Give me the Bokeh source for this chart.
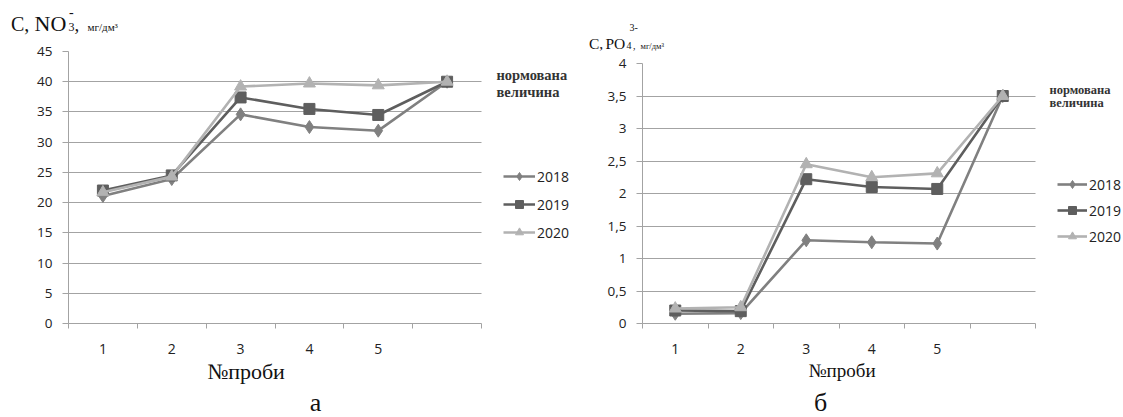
from bokeh.plotting import figure
from bokeh.layouts import row, column
from bokeh.models import Range1d, FixedTicker, Label, Legend, LegendItem
from bokeh.embed import file_html
from bokeh.resources import INLINE

# ---------------- data ----------------
x_labels = ["1", "2", "3", "4", "5", ""]
years = ["2018", "2019", "2020"]

no3_2018 = [21.1, 23.9, 34.6, 32.5, 31.9, 40.0]
no3_2019 = [22.0, 24.5, 37.4, 35.5, 34.5, 40.0]
no3_2020 = [21.7, 24.3, 39.2, 39.7, 39.4, 40.0]

po4_2018 = [0.15, 0.16, 1.28, 1.25, 1.23, 3.5]
po4_2019 = [0.20, 0.19, 2.22, 2.10, 2.07, 3.5]
po4_2020 = [0.23, 0.25, 2.45, 2.25, 2.31, 3.5]

no3_ticks = [0, 5, 10, 15, 20, 25, 30, 35, 40, 45]
no3_tick_labels = ["0", "5", "10", "15", "20", "25", "30", "35", "40", "45"]
po4_ticks = [0, 0.5, 1, 1.5, 2, 2.5, 3, 3.5, 4]
po4_tick_labels = ["0", "0,5", "1", "1,5", "2", "2,5", "3", "3,5", "4"]

norm_label = ["нормована", "величина"]
x_title = "№проби"

# ---------------- style ----------------
COLORS = ["#808080", "#5e5e5e", "#b2b2b2"]
MARKERS = ["diamond", "square", "triangle"]
MSIZES = [13, 11, 12]
GRID = "#a3a3a3"
SERIF = "Liberation Serif"
SANS = "Open Sans"
MID = 0.34   # distance from em-box middle to baseline, in em (serif)


def text_panel(width, height):
    p = figure(width=width, height=height, output_backend="svg", toolbar_location=None,
               title=None, x_axis_type=None, y_axis_type=None,
               x_range=Range1d(0, width), y_range=Range1d(height, 0),
               min_border=0, min_border_left=0, min_border_right=0,
               min_border_top=0, min_border_bottom=0, frame_align=False)
    p.outline_line_color = None
    p.grid.visible = False
    return p


def put(p, x, base, text, size, style="normal", align="left", color="#111111", screen=False):
    # base = wanted baseline; text is anchored by its middle
    if screen:
        y = base + MID * size     # screen y grows upward
        units = "screen"
    else:
        y = base - MID * size     # data y of text panels grows downward
        units = "data"
    p.add_layout(Label(x=x, y=y, x_units=units, y_units=units, text=text, text_font=SERIF,
                       text_font_size=f"{size}px", text_font_style=style, text_align=align,
                       text_baseline="middle", text_color=color))


def chart(width, height, fl, ft, fb, cat_px, ymax, yticks, ylabels, series):
    n = len(x_labels)
    frame_w = width - fl
    x_end = 0.5 + frame_w / cat_px
    p = figure(width=width, height=height, output_backend="svg", toolbar_location=None, title=None,
               x_range=Range1d(0.5, x_end), y_range=Range1d(0, ymax), frame_align=False,
               min_border_left=fl, min_border_right=0, min_border_top=ft, min_border_bottom=fb)
    p.outline_line_color = None
    xs = list(range(1, n + 1))
    xa = p.xaxis[0]
    xa.bounds = (0.5, n + 0.5)
    xa.ticker = FixedTicker(ticks=xs, minor_ticks=[x - 0.5 for x in xs] + [n + 0.5])
    xa.major_label_overrides = {x: lab for x, lab in zip(xs, x_labels)}
    xa.major_tick_out = 0
    xa.major_tick_in = 0
    xa.minor_tick_out = 5
    xa.minor_tick_in = 0
    xa.minor_tick_line_color = GRID
    xa.axis_line_color = GRID
    xa.major_label_standoff = 15
    xa.major_label_text_font = SANS
    xa.major_label_text_font_size = "14px"
    xa.major_label_text_color = "#222222"
    ya = p.yaxis[0]
    ya.ticker = FixedTicker(ticks=yticks, minor_ticks=[])
    ya.major_label_overrides = {t: l for t, l in zip(yticks, ylabels)}
    ya.major_tick_out = 6
    ya.major_tick_in = 0
    ya.major_tick_line_color = GRID
    ya.axis_line_color = GRID
    ya.major_label_standoff = 10
    ya.major_label_text_font = SANS
    ya.major_label_text_font_size = "13.5px"
    ya.major_label_text_color = "#222222"
    p.xgrid.grid_line_color = None
    p.ygrid.grid_line_color = GRID
    p.ygrid.cross_bounds = (0.5, n + 0.5)
    items = []
    for name, ys, c, m, s in zip(years, series, COLORS, MARKERS, MSIZES):
        ln = p.line(xs, ys, line_color=c, line_width=2.6)
        sc = p.scatter(xs, ys, marker=m, size=s, fill_color=c, line_color=c)
        items.append(LegendItem(label=name, renderers=[ln, sc]))
    return p, items


def legend(p, items, vx, vy, spacing, glyph_w):
    lg = Legend(items=items, location=(vx, vy), glyph_width=glyph_w, glyph_height=20,
                label_height=20, spacing=spacing, padding=0, margin=0, label_standoff=2,
                border_line_alpha=0, background_fill_alpha=0,
                label_text_font=SANS, label_text_font_size="14px", label_text_color="#222222")
    p.add_layout(lg)


# ================= chart a  (x 0..575) =================
W1 = 575
top_a = text_panel(W1, 43)                       # y 0..43
put(top_a, 10.5, 30, "C,", 20)
put(top_a, 34, 30, "NO", 22)
put(top_a, 68, 30.5, "3", 12)
put(top_a, 68.5, 16.5, "-", 14)
put(top_a, 74, 30, ",", 19)
put(top_a, 87, 30, "мг/дм³", 11)

mid_a, items_a = chart(W1, 315, 68, 8, 35, 413 / 6, 45, no3_ticks, no3_tick_labels,
                       [no3_2018, no3_2019, no3_2020])   # y 43..358, frame 51..323
legend(mid_a, items_a, 435, 81, 8, 32)
put(mid_a, 428, 323 - 79, norm_label[0], 14.5, style="bold", color="#333333", screen=True)
put(mid_a, 428, 323 - 96, norm_label[1], 14.5, style="bold", color="#333333", screen=True)

bot_a = text_panel(W1, 58)                       # y 358..416
put(bot_a, 245.5, 378 - 358, x_title, 22, align="center")
put(bot_a, 315, 411 - 358, "а", 26, align="center")

# ================= chart б  (x 575..1121) =================
W2 = 546
top_b = text_panel(W2, 55)                       # y 0..55
put(top_b, 13.5, 48, "C,", 15.5)
put(top_b, 30, 48, "PO", 15.5)
put(top_b, 51, 48.5, "4", 10)
put(top_b, 54, 30, "3-", 10)
put(top_b, 57.5, 48, ",", 10)
put(top_b, 65, 48, "мг/дм³", 8.5)

mid_b, items_b = chart(W2, 303, 67, 8, 35, 393 / 6, 4, po4_ticks, po4_tick_labels,
                       [po4_2018, po4_2019, po4_2020])   # y 55..358, frame 63..323
legend(mid_b, items_b, 415, 77, 6, 30)
put(mid_b, 407, 323 - 94, norm_label[0], 12.5, style="bold", color="#333333", screen=True)
put(mid_b, 407, 323 - 107, norm_label[1], 12.5, style="bold", color="#333333", screen=True)

bot_b = text_panel(W2, 58)                       # y 358..416
put(bot_b, 266.5, 376 - 358, x_title, 19, align="center")
put(bot_b, 245, 411 - 358, "б", 26, align="center")

layout = row(column(top_a, mid_a, bot_a, spacing=0), column(top_b, mid_b, bot_b, spacing=0), spacing=0)
open("out.html", "w").write(file_html(layout, INLINE))
